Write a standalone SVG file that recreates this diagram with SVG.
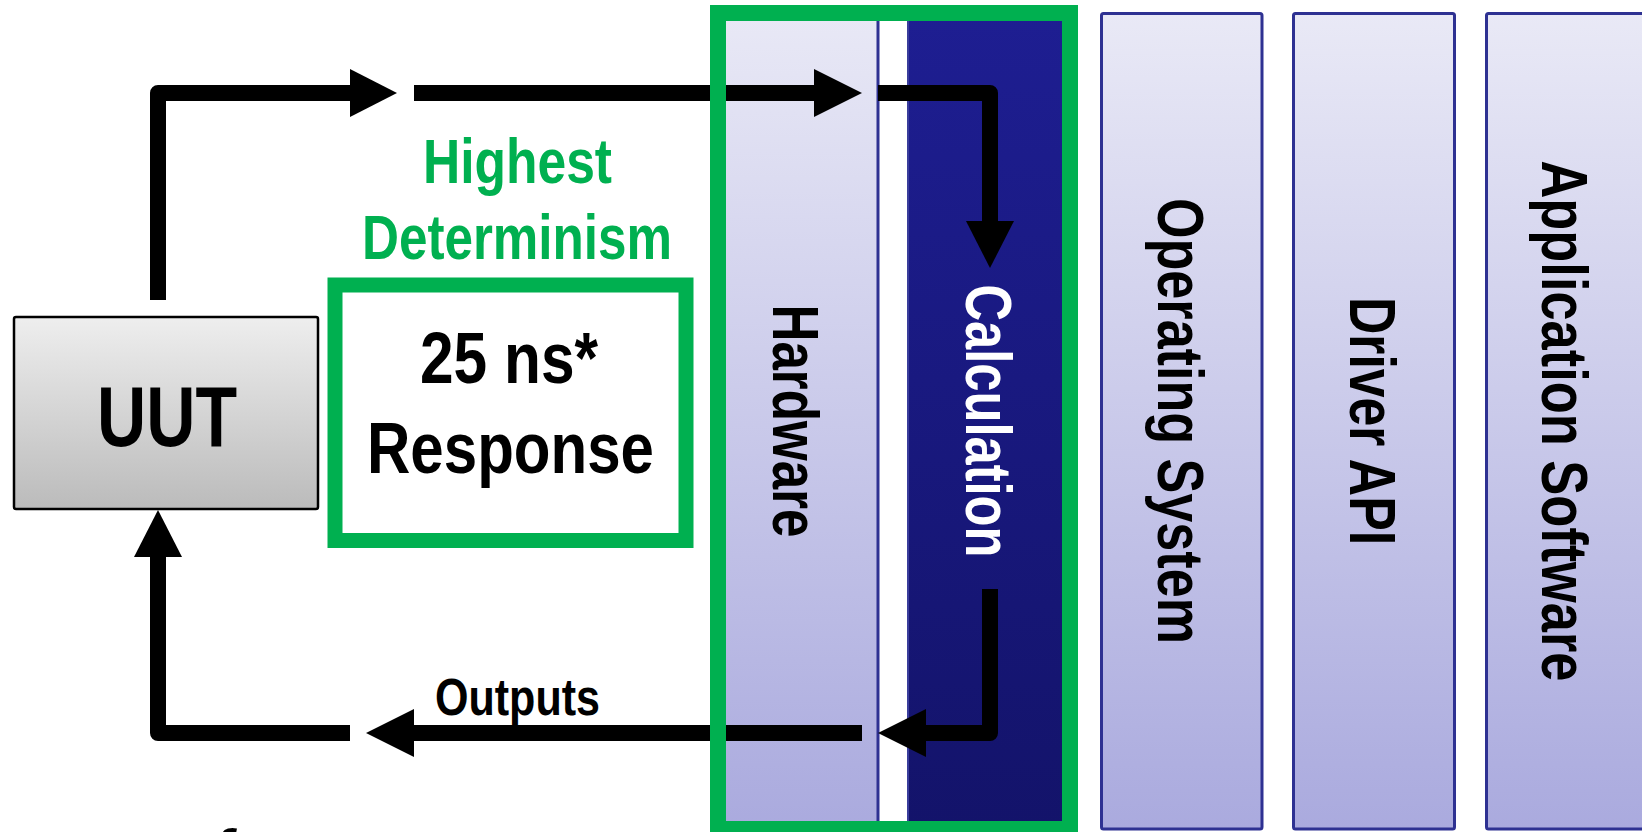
<svg xmlns="http://www.w3.org/2000/svg" width="1642" height="832" viewBox="0 0 1642 832">
  <defs>
    <linearGradient id="layerFill" x1="0" y1="0" x2="0" y2="1">
      <stop offset="0" stop-color="#E9E9F6"/>
      <stop offset="1" stop-color="#AAAADE"/>
    </linearGradient>
    <linearGradient id="calcFill" x1="0" y1="0" x2="0" y2="1">
      <stop offset="0" stop-color="#1E1E92"/>
      <stop offset="1" stop-color="#13136A"/>
    </linearGradient>
    <linearGradient id="uutFill" x1="0" y1="0" x2="0" y2="1">
      <stop offset="0" stop-color="#EEEEEE"/>
      <stop offset="1" stop-color="#BBBBBB"/>
    </linearGradient>
    <style>
      .lbl { font-family: "Liberation Sans Narrow", "Liberation Sans", Arial, sans-serif; font-weight: bold; }
      .layer { fill: url(#layerFill); stroke: #2E3192; stroke-width: 3; }
      .calc { fill: url(#calcFill); stroke: #3A3D9C; stroke-width: 2; }
      .green { fill: none; stroke: #00B050; }
      .flow { fill: none; stroke: #000; stroke-width: 16; stroke-linejoin: round; stroke-linecap: butt; }
      .head { fill: #000; }
      .vtext { font-size: 64px; }
    </style>
  </defs>

  <!-- software / hardware layers -->
  <g id="layer-hardware">
    <rect class="layer" x="712" y="8" width="166" height="822" rx="2"/>
    <text class="lbl vtext" transform="translate(772.7,421) rotate(90)" text-anchor="middle" fill="#000" textLength="233" lengthAdjust="spacingAndGlyphs">Hardware</text>
  </g>
  <g id="layer-calculation">
    <rect class="calc" x="908" y="8" width="164" height="822"/>
    <text class="lbl vtext" transform="translate(966,421) rotate(90)" text-anchor="middle" fill="#FFFFFF" textLength="273" lengthAdjust="spacingAndGlyphs">Calculation</text>
  </g>
  <g id="layer-os">
    <rect class="layer" x="1101.5" y="13.5" width="160.5" height="815.5" rx="2"/>
    <text class="lbl vtext" transform="translate(1158,421) rotate(90)" text-anchor="middle" fill="#000" textLength="446" lengthAdjust="spacingAndGlyphs">Operating System</text>
  </g>
  <g id="layer-driver">
    <rect class="layer" x="1293.5" y="13.5" width="161" height="815.5" rx="2"/>
    <text class="lbl vtext" transform="translate(1350,421) rotate(90)" text-anchor="middle" fill="#000" textLength="248" lengthAdjust="spacingAndGlyphs">Driver API</text>
  </g>
  <g id="layer-application">
    <rect class="layer" x="1486.5" y="13.5" width="170" height="815.5" rx="2"/>
    <text class="lbl vtext" transform="translate(1542,421) rotate(90)" text-anchor="middle" fill="#000" textLength="521" lengthAdjust="spacingAndGlyphs">Application Software</text>
  </g>

  <!-- unit under test -->
  <g id="uut">
    <rect x="14" y="317" width="304" height="192" rx="2" fill="url(#uutFill)" stroke="#000" stroke-width="2.5"/>
    <text class="lbl" x="167" y="446" font-size="86" text-anchor="middle" fill="#000" textLength="140" lengthAdjust="spacingAndGlyphs">UUT</text>
  </g>

  <!-- response time box -->
  <g id="response">
    <rect class="green" x="335" y="285" width="351" height="255.5" stroke-width="15"/>
    <text class="lbl" x="509" y="383" font-size="73" text-anchor="middle" fill="#000" textLength="178" lengthAdjust="spacingAndGlyphs">25 ns*</text>
    <text class="lbl" x="510.5" y="473" font-size="73" text-anchor="middle" fill="#000" textLength="287" lengthAdjust="spacingAndGlyphs">Response</text>
  </g>

  <g id="determinism-label">
    <text class="lbl" x="517.5" y="183" font-size="63" text-anchor="middle" fill="#00B050" textLength="189" lengthAdjust="spacingAndGlyphs">Highest</text>
    <text class="lbl" x="517" y="259" font-size="63" text-anchor="middle" fill="#00B050" textLength="310" lengthAdjust="spacingAndGlyphs">Determinism</text>
  </g>

  <!-- signal path -->
  <g id="connectors">
    <path class="flow" d="M158 300 V93 H350"/>
    <polygon class="head" points="350,69 397,93 350,117"/>
    <path class="flow" d="M414 93 H814"/>
    <polygon class="head" points="814,69 862,93 814,117"/>
    <path class="flow" d="M878 93 H990 V221"/>
    <polygon class="head" points="966,221 1014,221 990,268"/>
    <path class="flow" d="M990 589 V733 H926"/>
    <polygon class="head" points="926,709 926,757 878,733"/>
    <path class="flow" d="M862 733 H414"/>
    <polygon class="head" points="414,709 414,757 366,733"/>
    <path class="flow" d="M350 733 H158 V557"/>
    <polygon class="head" points="134,557 182,557 158,510"/>
    <text class="lbl" x="517.5" y="715" font-size="52" text-anchor="middle" fill="#000" textLength="165" lengthAdjust="spacingAndGlyphs">Outputs</text>
  </g>

  <!-- frame around hardware + calculation -->
  <g id="hardware-frame">
    <rect class="green" x="718" y="13" width="352" height="816" stroke-width="16"/>
  </g>

  <!-- footnote text running off the lower edge -->
  <text class="lbl" x="212" y="871" font-size="60" font-style="italic" fill="#000">f</text>
</svg>
